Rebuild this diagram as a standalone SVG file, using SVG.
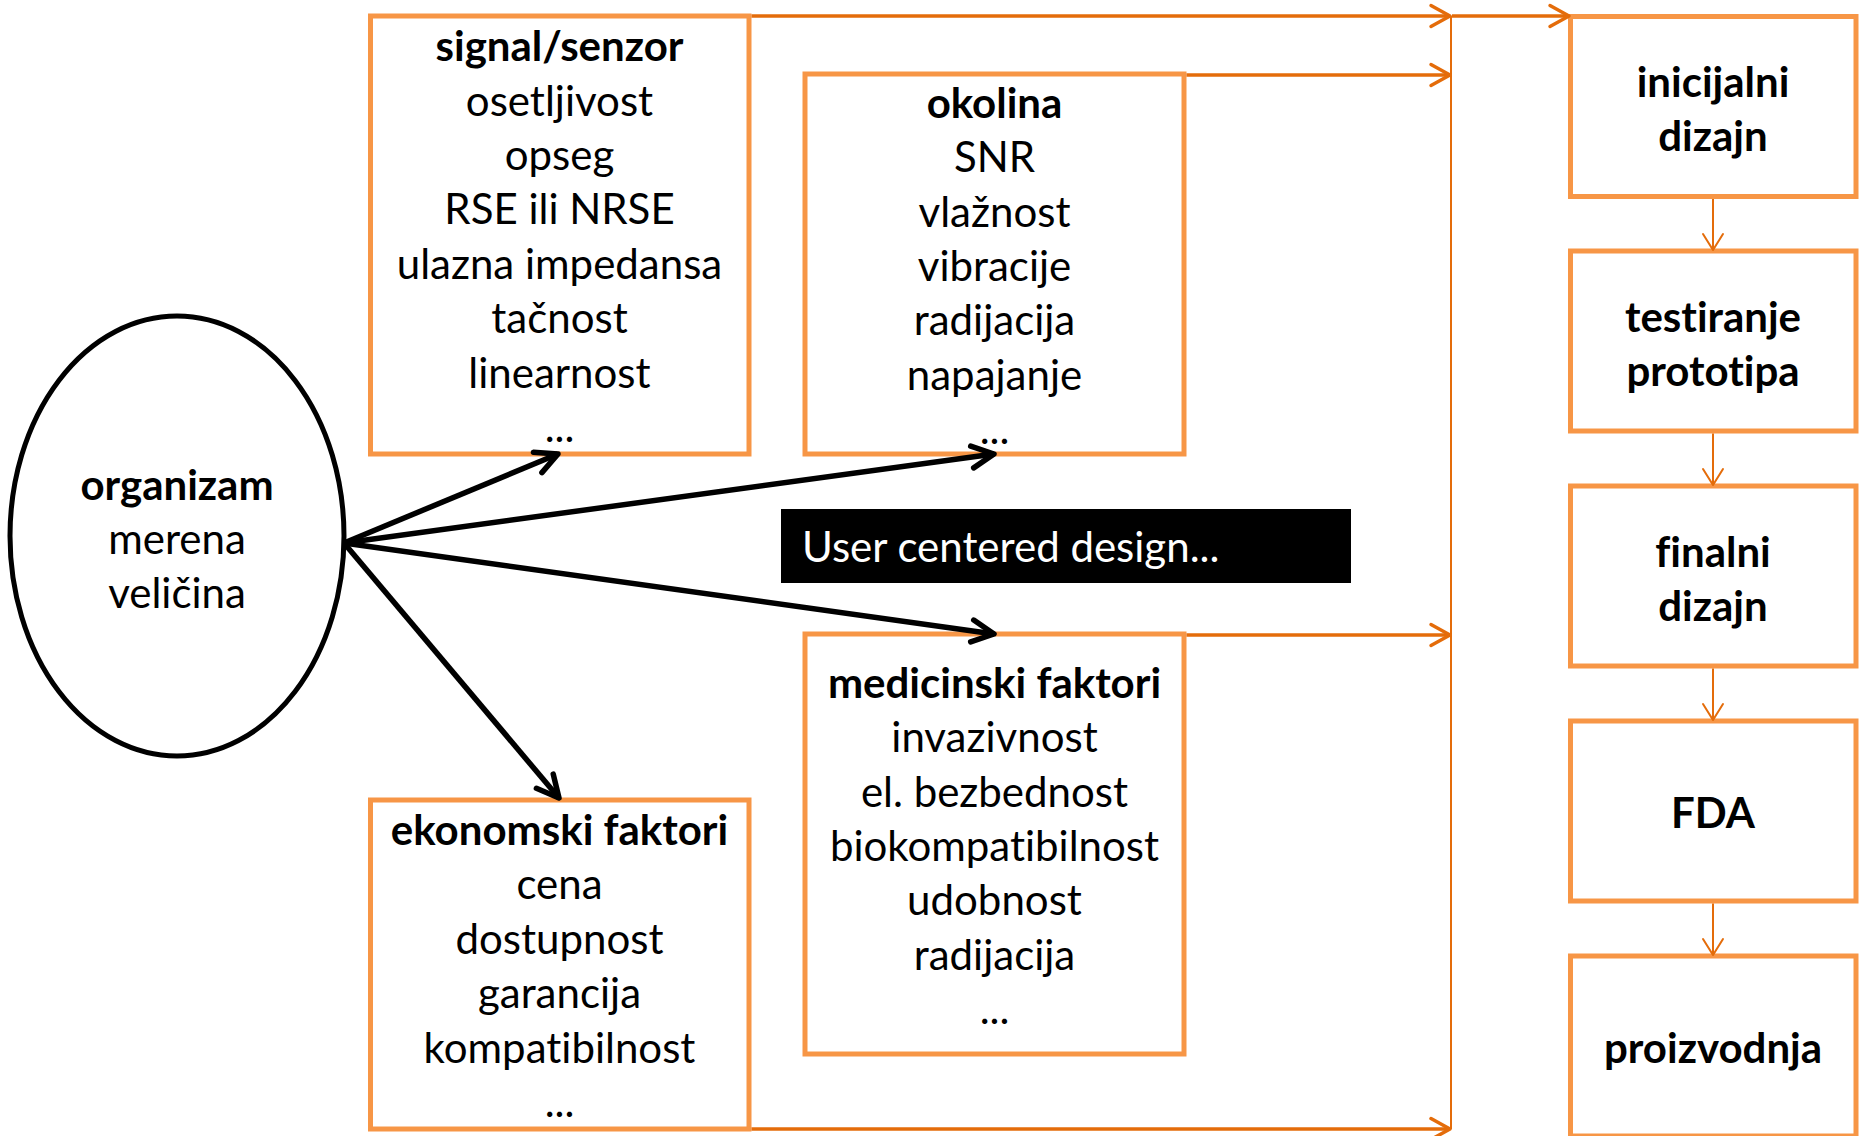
<svg xmlns="http://www.w3.org/2000/svg" width="1862" height="1136" viewBox="0 0 1862 1136">
<style>
.bx{fill:#fff;stroke:#F79646;stroke-width:5}
.t{font-family:Lato,"Open Sans","Liberation Sans",sans-serif;font-size:42px;fill:#000;text-anchor:middle;font-variant-ligatures:none;font-feature-settings:"liga" 0,"clig" 0,"dlig" 0}
.b{font-weight:bold}
.blk{stroke:#000;stroke-width:5.5;fill:none}
.or{stroke:#E46C0A;stroke-width:3.5;fill:none}
.thin{stroke:#E46C0A;stroke-width:2;fill:none}
</style>
<defs>
<marker id="hb" markerUnits="userSpaceOnUse" viewBox="-30 -15 32 30" refX="0" refY="0" markerWidth="32" markerHeight="30" orient="auto" overflow="visible">
<path d="M-22,-11 L0,0 L-22,11" fill="none" stroke="#000" stroke-width="5.5" stroke-linecap="round" stroke-linejoin="round"/>
</marker>
<marker id="ho" markerUnits="userSpaceOnUse" viewBox="-30 -15 32 30" refX="0" refY="0" markerWidth="32" markerHeight="30" orient="auto" overflow="visible">
<path d="M-19,-10.5 L0,0 L-19,10.5" fill="none" stroke="#E46C0A" stroke-width="3.5" stroke-linecap="round" stroke-linejoin="round"/>
</marker>
<marker id="hs" markerUnits="userSpaceOnUse" viewBox="-30 -15 32 30" refX="0" refY="0" markerWidth="32" markerHeight="30" orient="auto" overflow="visible">
<path d="M-16,-10 L0,0 L-16,10" fill="none" stroke="#E46C0A" stroke-width="2" stroke-linecap="round" stroke-linejoin="round"/>
</marker>
</defs>
<rect width="1862" height="1136" fill="#fff"/>

<g id="organizam">
<ellipse cx="177" cy="536" rx="167" ry="220" fill="#fff" stroke="#000" stroke-width="5"/>
<text class="t b" x="177" y="500">organizam</text>
<text class="t" x="177" y="554">merena</text>
<text class="t" x="177" y="608">veličina</text>
</g>

<g id="signal">
<rect class="bx" x="370.5" y="16" width="378.5" height="438"/>
<text class="t b" x="559.5" y="61">signal/senzor</text>
<text class="t" x="559.5" y="115.5">osetljivost</text>
<text class="t" x="559.5" y="170">opseg</text>
<text class="t" x="559.5" y="224">RSE ili NRSE</text>
<text class="t" x="559.5" y="278.5">ulazna impedansa</text>
<text class="t" x="559.5" y="333">tačnost</text>
<text class="t" x="559.5" y="387.5">linearnost</text>
<text class="t" x="559.5" y="441.5">...</text>
</g>

<g id="okolina">
<rect class="bx" x="805" y="74" width="379" height="380"/>
<text class="t b" x="994.5" y="118">okolina</text>
<text class="t" x="994.5" y="172">SNR</text>
<text class="t" x="994.5" y="226.5">vlažnost</text>
<text class="t" x="994.5" y="281">vibracije</text>
<text class="t" x="994.5" y="335">radijacija</text>
<text class="t" x="994.5" y="389.5">napajanje</text>
<text class="t" x="994.5" y="443.5">...</text>
</g>

<g id="medicinski">
<rect class="bx" x="805" y="634" width="379" height="420"/>
<text class="t b" x="994.5" y="698">medicinski faktori</text>
<text class="t" x="994.5" y="752">invazivnost</text>
<text class="t" x="994.5" y="806.5">el. bezbednost</text>
<text class="t" x="994.5" y="861">biokompatibilnost</text>
<text class="t" x="994.5" y="915">udobnost</text>
<text class="t" x="994.5" y="969.5">radijacija</text>
<text class="t" x="994.5" y="1023.5">...</text>
</g>

<g id="ekonomski">
<rect class="bx" x="370.5" y="800" width="378.5" height="329"/>
<text class="t b" x="559.5" y="844.5">ekonomski faktori</text>
<text class="t" x="559.5" y="899">cena</text>
<text class="t" x="559.5" y="953.5">dostupnost</text>
<text class="t" x="559.5" y="1008">garancija</text>
<text class="t" x="559.5" y="1062.5">kompatibilnost</text>
<text class="t" x="559.5" y="1116.5">...</text>
</g>

<g id="ucd">
<rect x="781" y="509" width="570" height="74" fill="#000"/>
<text class="t" x="802" y="561.5" style="text-anchor:start;fill:#fff">User centered design...</text>
</g>

<g id="inicijalni">
<rect class="bx" x="1570.5" y="16.5" width="285.5" height="180"/>
<text class="t b" x="1713" y="96.5">inicijalni</text>
<text class="t b" x="1713" y="150.5">dizajn</text>
</g>
<g id="testiranje">
<rect class="bx" x="1570.5" y="251" width="285.5" height="180"/>
<text class="t b" x="1713" y="331.5">testiranje</text>
<text class="t b" x="1713" y="385.5">prototipa</text>
</g>
<g id="finalni">
<rect class="bx" x="1570.5" y="486" width="285.5" height="180"/>
<text class="t b" x="1713" y="566.5">finalni</text>
<text class="t b" x="1713" y="620.5">dizajn</text>
</g>
<g id="fda">
<rect class="bx" x="1570.5" y="721" width="285.5" height="180"/>
<text class="t b" x="1713" y="827.5">FDA</text>
</g>
<g id="proizvodnja">
<rect class="bx" x="1570.5" y="956" width="285.5" height="180"/>
<text class="t b" x="1713" y="1062.5">proizvodnja</text>
</g>

<g id="connectors">
<path class="thin" d="M1451,16 V1129"/>
<path class="or" d="M751.5,16 H1450" marker-end="url(#ho)"/>
<path class="or" d="M1452,16 H1569" marker-end="url(#ho)"/>
<path class="or" d="M1186.5,75 H1450" marker-end="url(#ho)"/>
<path class="or" d="M1186.5,635 H1450" marker-end="url(#ho)"/>
<path class="or" d="M751.5,1129 H1450" marker-end="url(#ho)"/>
<path class="thin" d="M1713,199 V250" marker-end="url(#hs)"/>
<path class="thin" d="M1713,433.5 V485" marker-end="url(#hs)"/>
<path class="thin" d="M1713,668.5 V720" marker-end="url(#hs)"/>
<path class="thin" d="M1713,903.5 V955" marker-end="url(#hs)"/>
<path class="blk" d="M344,543 L558,454" marker-end="url(#hb)"/>
<path class="blk" d="M344,543 L994,454" marker-end="url(#hb)"/>
<path class="blk" d="M344,543 L994,634" marker-end="url(#hb)"/>
<path class="blk" d="M344,543 L559,798" marker-end="url(#hb)"/>
</g>
</svg>
